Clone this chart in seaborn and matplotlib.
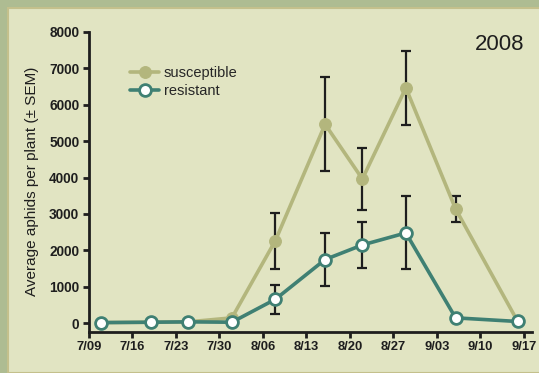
"""
Aphid counts per plant (2008), susceptible vs resistant lines,
with SEM error bars.
"""

import pandas as pd
import seaborn as sns
import matplotlib.pyplot as plt
import matplotlib.dates as mdates
from matplotlib.patches import Rectangle

# --------------------------------------------------------------------
# Data
# --------------------------------------------------------------------
sample_dates = ["2008-07-11", "2008-07-19", "2008-07-25", "2008-08-01",
                "2008-08-08", "2008-08-16", "2008-08-22", "2008-08-29",
                "2008-09-06", "2008-09-16"]

susceptible_mean = [20, 30, 40, 150, 2270, 5460, 3960, 6460, 3140, 50]
susceptible_sem = [0, 0, 0, 0, 770, 1290, 840, 1010, 350, 0]

resistant_mean = [20, 30, 40, 30, 660, 1750, 2150, 2480, 150, 50]
resistant_sem = [0, 0, 0, 0, 400, 730, 640, 1000, 0, 0]

tick_dates = ["2008-07-09", "2008-07-16", "2008-07-23", "2008-07-30",
              "2008-08-06", "2008-08-13", "2008-08-20", "2008-08-27",
              "2008-09-03", "2008-09-10", "2008-09-17"]
y_ticks = [0, 1000, 2000, 3000, 4000, 5000, 6000, 7000, 8000]

year_label = "2008"

# colores
OUTER_BG = "#aebc92"
PANEL_BG = "#e1e4c2"
PANEL_EDGE = "#c4c08c"
SUSC_COLOR = "#b3b67d"
RES_COLOR = "#3f8073"
INK = "#1e1e1e"


def main():
    sns.set_theme(style="ticks")
    plt.rcParams["font.family"] = ["Liberation Sans", "DejaVu Sans"]

    df = pd.DataFrame({
        "date": pd.to_datetime(sample_dates),
        "susceptible": susceptible_mean,
        "susceptible_sem": susceptible_sem,
        "resistant": resistant_mean,
        "resistant_sem": resistant_sem,
    })

    fig = plt.figure(figsize=(5.39, 3.73), dpi=100, facecolor=OUTER_BG)

    # panel claro de fondo (detras de los ejes)
    fig.patches.append(Rectangle((8 / 539, 0), 1.0, (373 - 8) / 373,
                                 transform=fig.transFigure, facecolor=PANEL_BG,
                                 edgecolor=PANEL_EDGE, linewidth=1.5, zorder=-10))

    ax = fig.add_axes([89 / 539, 41.3 / 373, 443 / 539, 300 / 373])
    ax.set_facecolor("none")
    ax.set_zorder(1)

    # barras de error (debajo de los marcadores)
    for col, sem in (("susceptible", "susceptible_sem"), ("resistant", "resistant_sem")):
        sub = df[df[sem] > 0]
        ax.errorbar(sub["date"], sub[col], yerr=sub[sem], fmt="none",
                    ecolor=INK, elinewidth=1.6, capsize=3.8, capthick=1.6, zorder=2)

    sns.lineplot(data=df, x="date", y="susceptible", ax=ax, color=SUSC_COLOR,
                 linewidth=2.6, marker="o", markersize=8.5,
                 markeredgecolor=SUSC_COLOR, label="susceptible", zorder=3)
    sns.lineplot(data=df, x="date", y="resistant", ax=ax, color=RES_COLOR,
                 linewidth=2.6, marker="o", markersize=8.5,
                 markerfacecolor="white", markeredgecolor=RES_COLOR,
                 markeredgewidth=2.0, label="resistant", zorder=4)

    # ejes
    ticks = pd.to_datetime(tick_dates)
    ax.set_xlim(ticks[0], ticks[0] + pd.Timedelta(days=71.3))
    ax.set_ylim(-230, 8000)
    ax.set_xticks(ticks)
    ax.xaxis.set_major_formatter(mdates.DateFormatter("%-m/%d"))
    ax.set_yticks(y_ticks)

    for side in ("top", "right"):
        ax.spines[side].set_visible(False)
    for side in ("left", "bottom"):
        ax.spines[side].set_color(INK)
        ax.spines[side].set_linewidth(2.0)
    ax.tick_params(axis="both", direction="out", length=4, width=2.0,
                   color=INK, labelcolor=INK, labelsize=9.8, pad=3)
    ax.tick_params(axis="x", labelsize=9.4)
    for lab in ax.get_xticklabels() + ax.get_yticklabels():
        lab.set_fontweight("bold")

    ax.set_xlabel("")
    ax.set_ylabel("Average aphids per plant (\u00b1 SEM)", fontsize=11, color=INK,
                  labelpad=7)

    ax.legend(loc="upper left", bbox_to_anchor=(0.08, 0.905), frameon=False,
              fontsize=10.5, handlelength=2.0, handletextpad=0.3,
              labelspacing=0.3, borderaxespad=0)

    fig.text(500 / 539, 1 - 44 / 373, year_label, fontsize=16, color=INK,
             ha="center", va="center")

    fig.savefig("out.png", dpi=100, facecolor=OUTER_BG)
    plt.close(fig)


if __name__ == "__main__":
    main()
